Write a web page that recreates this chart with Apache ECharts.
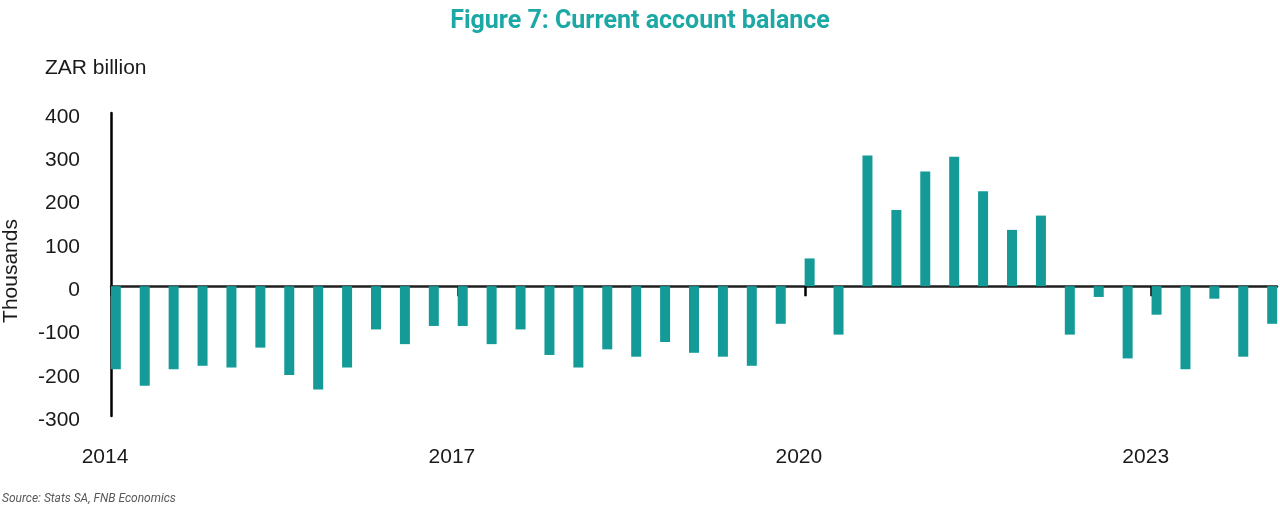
<!DOCTYPE html>
<html>
<head>
<meta charset="utf-8">
<title>Figure 7: Current account balance</title>
<script src="https://cdn.jsdelivr.net/npm/echarts@6.0.0/dist/echarts.min.js"></script>
<style>
  html, body { margin: 0; padding: 0; background: #fff; }
  #chart { width: 1280px; height: 509px; }
</style>
</head>
<body>
<div id="chart"></div>
<script>
// ── data: quarterly current account balance, 2014Q1 – 2024Q1 ──
const QUARTERS = [
  '2014Q1', '2014Q2', '2014Q3', '2014Q4',
  '2015Q1', '2015Q2', '2015Q3', '2015Q4',
  '2016Q1', '2016Q2', '2016Q3', '2016Q4',
  '2017Q1', '2017Q2', '2017Q3', '2017Q4',
  '2018Q1', '2018Q2', '2018Q3', '2018Q4',
  '2019Q1', '2019Q2', '2019Q3', '2019Q4',
  '2020Q1', '2020Q2', '2020Q3', '2020Q4',
  '2021Q1', '2021Q2', '2021Q3', '2021Q4',
  '2022Q1', '2022Q2', '2022Q3', '2022Q4',
  '2023Q1', '2023Q2', '2023Q3', '2023Q4',
  '2024Q1',
];
const BALANCE = [
  -192, -230, -192, -184,
  -188, -142, -205, -239,
  -188, -100, -134, -92,
  -92, -134, -100, -159,
  -188, -146, -163, -129,
  -154, -163, -184, -87,
  64, -112, 302, 176,
  265, 299, 219, 130,
  163, -112, -25, -167,
  -66, -192, -29, -163,
  -87,
];
// year ticks shown on the axis
const YEAR_TICKS = [2014, 2017, 2020, 2023];
const START_YEAR = 2014;

const COLORS = {
  bar:   '#149b98',
  title: '#1ca8a5',
  text:  '#1a1a1a',
  axis:  '#000000',
  zero:  '#1f1f1f',
  note:  '#595959',
};
const LABEL_FONT = "'Liberation Sans', Arial, sans-serif";

// 月为单位的时间轴：季度首月，柱子从该月起画
function monthOf(q) {
  const y = +q.slice(0, 4), n = +q.slice(5);
  return (y - START_YEAR) * 12 + (n - 1) * 3;
}
const barData = QUARTERS.map((q, i) => [monthOf(q) + 0.5, BALANCE[i]]);
const tickMonths = YEAR_TICKS.map((y) => (y - START_YEAR) * 12);
const axisMax = monthOf(QUARTERS[QUARTERS.length - 1]) + 1;

const chart = echarts.init(document.getElementById('chart'), null, { renderer: 'canvas' });
chart.setOption({
  animation: false,
  backgroundColor: '#fff',
  textStyle: { fontFamily: LABEL_FONT },
  title: {
    text: 'Figure 7: Current account balance',
    left: 'center',
    top: 4,
    textStyle: { fontFamily: "Roboto, 'Noto Sans', sans-serif", fontWeight: 'bold', fontSize: 25, color: COLORS.title },
  },
  grid: { left: 111, right: 3, top: 113, bottom: 93 },
  xAxis: [
    {
      // zero line + year ticks
      type: 'value', min: 0, max: axisMax,
      axisLine: { onZero: true, lineStyle: { color: COLORS.zero, width: 2.5 } },
      axisTick: { show: true, customValues: tickMonths, length: 10, lineStyle: { color: COLORS.axis, width: 2.5 } },
      axisLabel: { show: false },
      splitLine: { show: false },
    },
    {
      // year labels along the bottom
      type: 'value', min: 0, max: axisMax, position: 'bottom',
      axisLine: { show: false, onZero: false },
      axisTick: { show: false },
      splitLine: { show: false },
      axisLabel: {
        customValues: tickMonths,
        formatter: (v) => String(START_YEAR + v / 12),
        fontSize: 21, color: COLORS.text, margin: 31,
        padding: [0, 12, 0, 0],
      },
    },
  ],
  yAxis: {
    type: 'value', min: -300, max: 400, interval: 100,
    axisLine: { show: true, onZero: false, lineStyle: { color: COLORS.axis, width: 2.5 } },
    axisTick: { show: false },
    splitLine: { show: false },
    // 标签比刻度位置略低约 4px
    axisLabel: { fontSize: 21, color: COLORS.text, margin: 31, verticalAlign: 'top', lineHeight: 8 },
  },
  series: [{
    type: 'bar',
    xAxisIndex: 0,
    barWidth: 10,
    itemStyle: { color: COLORS.bar },
    data: barData,
  }],
  graphic: [
    { type: 'text', left: 45, top: 58,
      style: { text: 'ZAR billion', fontSize: 21, fontFamily: LABEL_FONT, fill: COLORS.text } },
    { type: 'text', x: 11, y: 271, rotation: Math.PI / 2,
      style: { text: 'Thousands', fontSize: 21, fontFamily: LABEL_FONT, fill: COLORS.text, align: 'center', verticalAlign: 'middle' } },
    { type: 'text', left: 2, top: 493,
      style: { text: 'Source: Stats SA, FNB Economics', fontSize: 12, fontStyle: 'italic', fontFamily: "Roboto, 'Noto Sans', sans-serif", fill: COLORS.note } },
  ],
});
</script>
</body>
</html>
